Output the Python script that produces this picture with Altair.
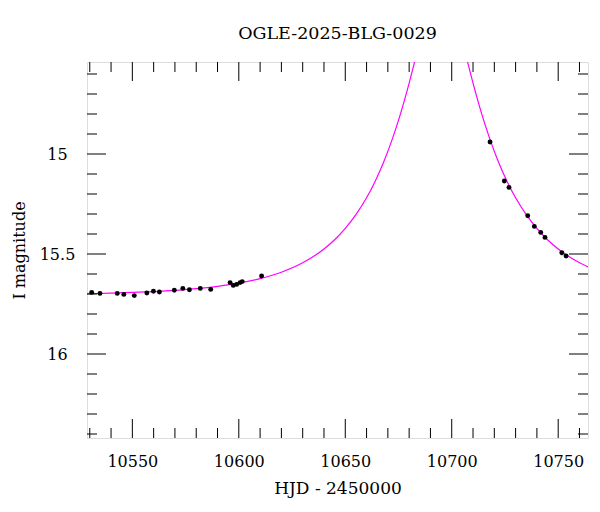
import altair as alt
import pandas as pd

# ---- data ----
t_data = [10530.9, 10534.8, 10542.9, 10546.0, 10550.9, 10556.8, 10559.9, 10562.7,
          10569.7, 10573.7, 10576.8, 10581.9, 10586.8, 10595.9, 10597.4, 10599.0,
          10600.6, 10601.6, 10610.7, 10718.0, 10724.7, 10726.9, 10735.7, 10738.8,
          10741.8, 10743.8, 10751.7, 10753.7]
I_data = [15.692, 15.697, 15.697, 15.702, 15.708, 15.695, 15.686, 15.690,
          15.681, 15.672, 15.679, 15.672, 15.677, 15.643, 15.657, 15.652,
          15.643, 15.638, 15.610, 14.940, 15.135, 15.167, 15.309, 15.362,
          15.392, 15.417, 15.494, 15.510]
I_err = [0.006, 0.006, 0.006, 0.006, 0.006, 0.006, 0.006, 0.006,
         0.006, 0.006, 0.006, 0.006, 0.006, 0.006, 0.006, 0.006,
         0.006, 0.006, 0.006, 0.005, 0.005, 0.005, 0.005, 0.005,
         0.005, 0.005, 0.005, 0.005]

t_model = [10528, 10540, 10550, 10560, 10570, 10580, 10590, 10600, 10610, 10620,
           10630, 10640, 10645, 10650, 10655, 10660, 10664, 10668, 10672, 10676,
           10680, 10683, 10686, 10704, 10707, 10710, 10714, 10718, 10722, 10726,
           10730, 10735, 10740, 10745, 10750, 10755, 10760, 10765]
I_model = [15.699, 15.696, 15.692, 15.688, 15.682, 15.673, 15.662, 15.646, 15.623, 15.591,
           15.544, 15.475, 15.429, 15.372, 15.303, 15.219, 15.137, 15.041, 14.928, 14.797,
           14.646, 14.522, 14.395, 14.395, 14.522, 14.646, 14.797, 14.928, 15.041, 15.137,
           15.219, 15.303, 15.372, 15.429, 15.475, 15.513, 15.544, 15.569]

x_major = [10550, 10600, 10650, 10700, 10750]
x_minor = [10530, 10540, 10560, 10570, 10580, 10590, 10610, 10620, 10630, 10640,
           10660, 10670, 10680, 10690, 10710, 10720, 10730, 10740, 10760]
y_major = [15.0, 15.5, 16.0]
y_minor = [14.6, 14.7, 14.8, 14.9, 15.1, 15.2, 15.3, 15.4, 15.6, 15.7, 15.8, 15.9,
           16.1, 16.2, 16.3, 16.4]

title_text = "OGLE-2025-BLG-0029"
x_title = "HJD - 2450000"
y_title = "I magnitude"

# ---- chart ----
W, H = 501, 376
FONT = "DejaVu Serif"
MAJ, MIN = 19, 10

xs = alt.Scale(domain=[10528.7, 10764.0], nice=False, zero=False)
ys = alt.Scale(domain=[14.54, 16.42], reverse=True, nice=False, zero=False)

data_df = pd.DataFrame({
    "t": t_data,
    "I": I_data,
    "lo": [m - e for m, e in zip(I_data, I_err)],
    "hi": [m + e for m, e in zip(I_data, I_err)],
})
model_df = pd.DataFrame({"t": t_model, "I": I_model})

x_axis = alt.Axis(values=x_major, format="d", title=x_title, grid=False, ticks=False,
                  tickSize=0, domain=False, labelFont=FONT, labelFontSize=16,
                  labelColor="black", labelPadding=15, labelFlush=False,
                  titleFont=FONT, titleFontSize=17, titleFontWeight="normal",
                  titleColor="black", titleBaseline="alphabetic", titleY=55)
y_axis = alt.Axis(values=y_major, format="~g", title=y_title, grid=False, ticks=False,
                  tickSize=0, domain=False, labelFont=FONT, labelFontSize=16,
                  labelColor="black", labelPadding=30, labelAlign="center",
                  labelBaseline="middle", labelFlush=False,
                  titleFont=FONT, titleFontSize=16, titleFontWeight="normal",
                  titleColor="black", titleX=-68, titleY=H / 2,
                  titleAlign="center", titleBaseline="middle", titleAngle=-90)

model_line = alt.Chart(model_df).mark_line(
    color="#ff00ff", strokeWidth=1.2, clip=True, interpolate="monotone"
).encode(
    x=alt.X("t:Q", scale=xs, axis=x_axis),
    y=alt.Y("I:Q", scale=ys, axis=y_axis),
)

err = alt.Chart(data_df).mark_rule(color="black", strokeWidth=1.2).encode(
    x=alt.X("t:Q", scale=xs, axis=x_axis),
    y=alt.Y("lo:Q", scale=ys, axis=y_axis),
    y2="hi:Q",
)
pts = alt.Chart(data_df).mark_circle(color="black", size=24, opacity=1).encode(
    x=alt.X("t:Q", scale=xs, axis=x_axis),
    y=alt.Y("I:Q", scale=ys, axis=y_axis),
)


def xticks(vals, length, top):
    df = pd.DataFrame({"v": vals})
    if top:
        y0, y1 = 0, length
    else:
        y0, y1 = H, H - length
    return alt.Chart(df).mark_rule(color="black", strokeWidth=1).encode(
        x=alt.X("v:Q", scale=xs, axis=x_axis),
        y=alt.value(y0), y2=alt.value(y1))


def yticks(vals, length, right):
    df = pd.DataFrame({"v": vals})
    if right:
        x0, x1 = W, W - length
    else:
        x0, x1 = 0, length
    return alt.Chart(df).mark_rule(color="black", strokeWidth=1).encode(
        y=alt.Y("v:Q", scale=ys, axis=y_axis),
        x=alt.value(x0), x2=alt.value(x1))


layers = [model_line, err, pts,
          xticks(x_major, MAJ, False), xticks(x_minor, MIN, False),
          xticks(x_major, MAJ, True), xticks(x_minor, MIN, True),
          yticks(y_major, MAJ, False), yticks(y_minor, MIN, False),
          yticks(y_major, MAJ, True), yticks(y_minor, MIN, True)]

chart = alt.layer(*layers).properties(
    width=W, height=H,
    title=alt.TitleParams(title_text, font=FONT, fontSize=17.5, fontWeight="normal",
                          color="black", anchor="middle", frame="group",
                          offset=5, baseline="alphabetic"),
    autosize=alt.AutoSizeParams(type="none"),
    padding={"left": 79, "top": 54, "right": 4, "bottom": 60},
).configure_view(stroke="black", strokeWidth=1.2).configure(background="white")

chart.save("out.html", embed_options={"renderer": "svg", "actions": False})
